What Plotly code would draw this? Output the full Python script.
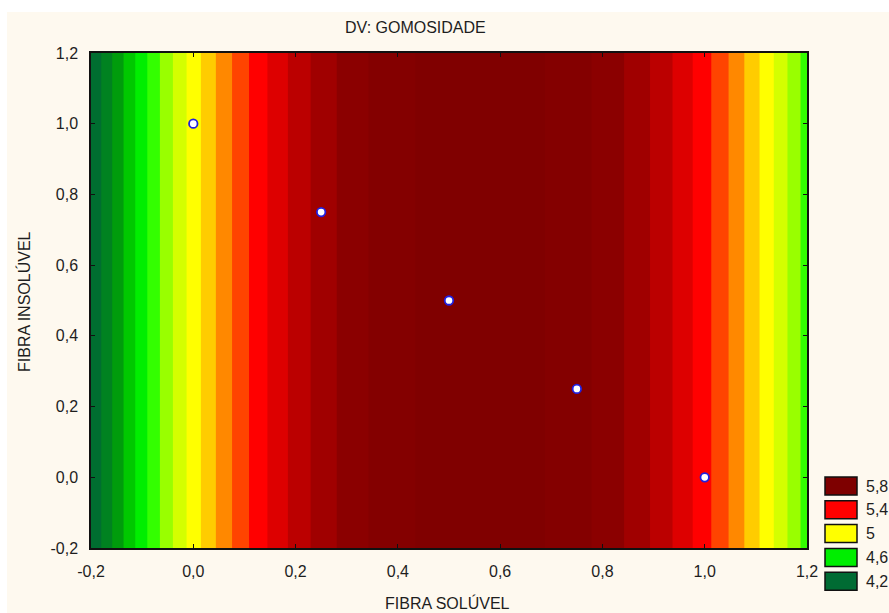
import plotly.graph_objects as go

# ---------------- data ----------------
fibra_soluvel = [-0.2, -0.15, -0.1, -0.05, 0.0, 0.05, 0.1, 0.15, 0.2, 0.25,
                 0.3, 0.35, 0.4, 0.45, 0.5, 0.55, 0.6, 0.65, 0.7, 0.75,
                 0.8, 0.85, 0.9, 0.95, 1.0, 1.05, 1.1, 1.15, 1.2]
fibra_insoluvel = [-0.2, 1.2]
gomosidade = [4.106, 4.340, 4.559, 4.762, 4.949, 5.120, 5.275, 5.414, 5.537, 5.644,
              5.736, 5.811, 5.870, 5.914, 5.941, 5.953, 5.948, 5.928, 5.891, 5.839,
              5.771, 5.687, 5.586, 5.470, 5.338, 5.190, 5.026, 4.846, 4.651]

pontos_x = [0.0, 0.25, 0.5, 0.75, 1.0]
pontos_y = [1.0, 0.75, 0.5, 0.25, 0.0]

level_start, level_end, level_step = 4.2, 5.9, 0.1
band_colors = ["#006E30", "#008220", "#009C0C", "#00C800", "#00EE00", "#33FF00",
               "#99FF00", "#D4FF00", "#FFFF00", "#FFCC00", "#FF8800", "#FF4400",
               "#FF0000", "#DD0000", "#BB0000", "#A00000", "#8B0000", "#840000",
               "#800000"]

tick_vals = [-0.2, 0.0, 0.2, 0.4, 0.6, 0.8, 1.0, 1.2]
tick_text = ["-0,2", "0,0", "0,2", "0,4", "0,6", "0,8", "1,0", "1,2"]

legend_labels = ["5,8", "5,4", "5", "4,6", "4,2"]
legend_colors = ["#7E0000", "#FF0000", "#FFFF00", "#00EE00", "#006B33"]

# ---------------- layout geometry ----------------
W, H = 889, 613
ML, MR, MT, MB = 91, 82, 53, 65
PW, PH = W - ML - MR, H - MT - MB


def px_x(p):
    return (p - ML) / PW


def px_y(p):
    return (H - MB - p) / PH


n = len(band_colors) - 1
colorscale = [[i / n, c] for i, c in enumerate(band_colors)]

z = [gomosidade for _ in fibra_insoluvel]

fig = go.Figure()
fig.add_trace(go.Contour(
    x=fibra_soluvel, y=fibra_insoluvel, z=z,
    contours=dict(start=level_start, end=level_end, size=level_step,
                  coloring="fill", showlines=False),
    colorscale=colorscale, showscale=False, line=dict(width=0),
    hoverinfo="skip"))

fig.add_trace(go.Scatter(
    x=pontos_x, y=pontos_y, mode="markers",
    marker=dict(size=8.5, color="white", line=dict(color="#2020E0", width=1.8)),
    showlegend=False))

font_family = "Arial, Liberation Sans, sans-serif"
txt_color = "#1E1E1E"

axis_common = dict(
    tickvals=tick_vals, ticktext=tick_text,
    showline=True, linecolor="#111111", linewidth=1.5, mirror="ticks",
    ticks="inside", ticklen=4, tickcolor="#111111", tickwidth=1,
    showgrid=False, zeroline=False,
    tickfont=dict(family=font_family, size=16, color=txt_color),
)

fig.update_xaxes(range=[-0.2, 1.2], ticklabelstandoff=8, **axis_common)
fig.update_yaxes(range=[-0.2, 1.2], ticklabelstandoff=8, **axis_common)

shapes = [
    dict(type="rect", xref="paper", yref="paper",
         x0=px_x(0), x1=px_x(W), y0=px_y(12), y1=px_y(0),
         fillcolor="white", line=dict(width=0), layer="below"),
    dict(type="rect", xref="paper", yref="paper",
         x0=px_x(0), x1=px_x(7), y0=px_y(H), y1=px_y(0),
         fillcolor="white", line=dict(width=0), layer="below"),
]

annotations = [
    dict(text="DV: GOMOSIDADE", x=px_x(415), y=px_y(28), xref="paper", yref="paper",
         showarrow=False, xanchor="center", yanchor="middle",
         font=dict(family=font_family, size=16, color=txt_color)),
    dict(text="FIBRA SOLÚVEL", x=px_x(447), y=px_y(603), xref="paper", yref="paper",
         showarrow=False, xanchor="center", yanchor="middle",
         font=dict(family=font_family, size=16, color=txt_color)),
    dict(text="FIBRA INSOLÚVEL", x=px_x(24), y=px_y(302), xref="paper", yref="paper",
         showarrow=False, xanchor="center", yanchor="middle", textangle=-90,
         font=dict(family=font_family, size=16, color=txt_color)),
]

box_x0, box_x1 = 825, 857
box_top0, box_gap, box_h = 477, 23.8, 18
for i, (lab, col) in enumerate(zip(legend_labels, legend_colors)):
    top = box_top0 + i * box_gap
    shapes.append(dict(type="rect", xref="paper", yref="paper",
                       x0=px_x(box_x0), x1=px_x(box_x1),
                       y0=px_y(top + box_h), y1=px_y(top),
                       fillcolor=col, line=dict(color="#111111", width=1.5)))
    annotations.append(dict(text=lab, x=px_x(864), y=px_y(top + box_h / 2),
                            xref="paper", yref="paper", showarrow=False,
                            xanchor="left", yanchor="middle",
                            font=dict(family=font_family, size=16, color=txt_color)))

fig.update_layout(
    width=W, height=H,
    margin=dict(l=ML, r=MR, t=MT, b=MB, pad=0),
    paper_bgcolor="#FEF9EF", plot_bgcolor="#FEF9EF",
    showlegend=False,
    shapes=shapes, annotations=annotations,
)

fig.write_html(
    "out.html",
    config={"displayModeBar": False},
    post_script="document.body.style.margin='0px';document.body.style.overflow='hidden';",
)
